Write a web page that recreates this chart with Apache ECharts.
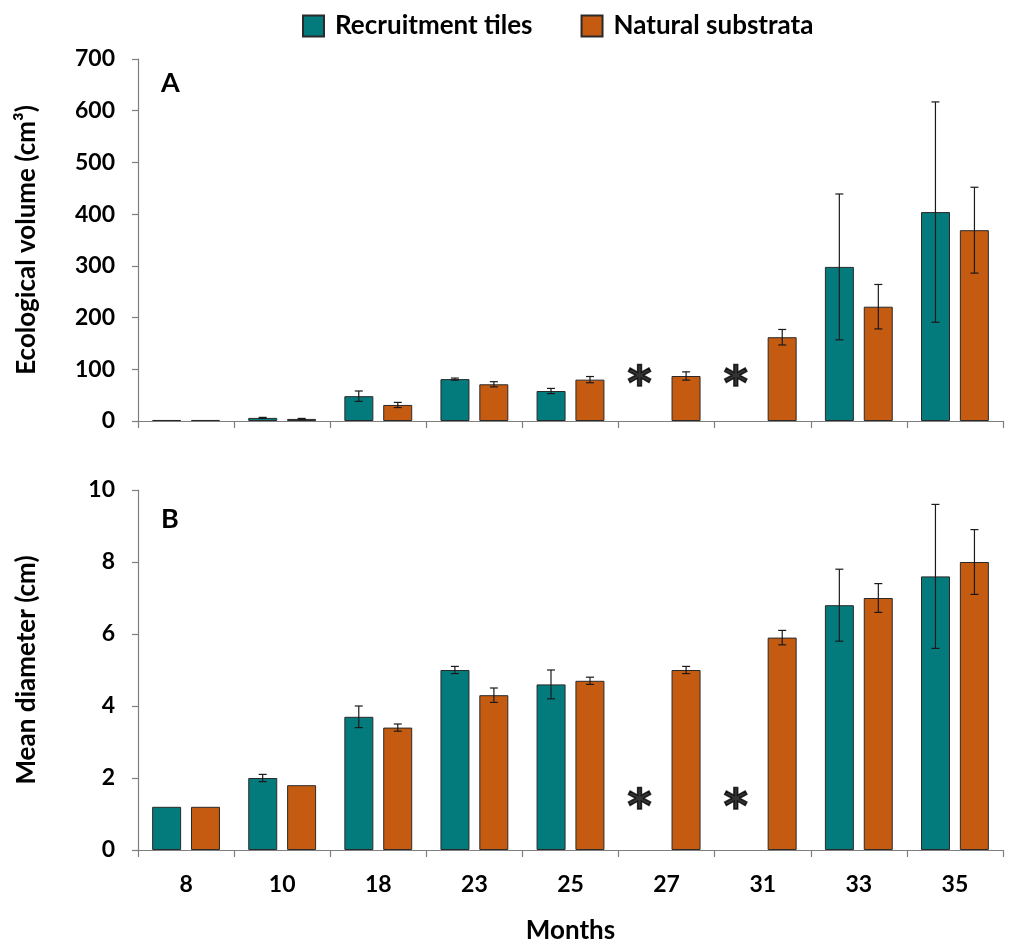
<!DOCTYPE html>
<html>
<head>
<meta charset="utf-8">
<script src="https://cdn.jsdelivr.net/npm/echarts@6/dist/echarts.min.js"></script>
<style>html,body{margin:0;padding:0;background:#fff}#c{width:1010px;height:945px}</style>
</head>
<body>
<div id="c"></div>
<script>
var months = ['8','10','18','23','25','27','31','33','35'];
var volTiles    = [2, 6, 48, 81, 58, null, null, 298, 404];
var volTilesErr = [0, 1, 10, 2, 5, null, null, 141, 213];
var volNat      = [2, 4, 31, 71, 80, 87, 162, 221, 369];
var volNatErr   = [0, 1, 5, 5, 6, 8, 15, 43, 83];
var diaTiles    = [1.2, 2.0, 3.7, 5.0, 4.6, null, null, 6.8, 7.6];
var diaTilesErr = [0, 0.1, 0.3, 0.1, 0.4, null, null, 1.0, 2.0];
var diaNat      = [1.2, 1.8, 3.4, 4.3, 4.7, 5.0, 5.9, 7.0, 8.0];
var diaNatErr   = [0, 0, 0.1, 0.2, 0.1, 0.1, 0.2, 0.4, 0.9];
var asteriskA   = [null, null, null, null, null, 92, 92, null, null];
var asteriskB   = [null, null, null, null, null, 1.5, 1.5, null, null];
var volTicks = [0, 700, 100];
var diaTicks = [0, 10, 2];

var TEAL = '#037B7D', ORANGE = '#C55A11', FONT = 'Lato';
var BAR_W = 29, OFF = 19.5;

function errData(vals, errs) {
  var out = [];
  for (var i = 0; i < vals.length; i++) {
    if (vals[i] != null && errs[i] > 0) out.push([i, vals[i] - errs[i], vals[i] + errs[i]]);
  }
  return out;
}
function errRender(offset) {
  return function (params, api) {
    var x = api.coord([api.value(0), 0])[0] + offset;
    var lo = api.coord([api.value(0), api.value(1)])[1];
    var hi = api.coord([api.value(0), api.value(2)])[1];
    var st = { stroke: '#1a1a1a', lineWidth: 1.2 };
    return { type: 'group', children: [
      { type: 'line', shape: { x1: x, y1: lo, x2: x, y2: hi }, style: st },
      { type: 'line', shape: { x1: x - 4, y1: lo, x2: x + 4, y2: lo }, style: st },
      { type: 'line', shape: { x1: x - 4, y1: hi, x2: x + 4, y2: hi }, style: st }
    ]};
  };
}
function xAxis(gi, showLabels) {
  return {
    type: 'category', gridIndex: gi, data: months,
    axisLine: { lineStyle: { color: '#7f7f7f', width: 1.2 } },
    axisTick: { show: true, length: 7, lineStyle: { color: '#7f7f7f', width: 1.2 } },
    axisLabel: { show: showLabels, fontFamily: FONT, fontWeight: 'bold', fontSize: 23, color: '#000', margin: 23 },
    name: showLabels ? 'Months' : '', nameLocation: 'middle', nameGap: 68,
    nameTextStyle: { fontFamily: FONT, fontWeight: 'bold', fontSize: 26, color: '#000' }
  };
}
function yAxis(gi, t, name) {
  return {
    type: 'value', gridIndex: gi, min: t[0], max: t[1], interval: t[2],
    splitLine: { show: false },
    axisLine: { show: true, lineStyle: { color: '#7f7f7f', width: 1.2 } },
    axisTick: { show: true, length: 6, lineStyle: { color: '#7f7f7f', width: 1.2 } },
    axisLabel: { fontFamily: FONT, fontWeight: 'bold', fontSize: 23, color: '#000', margin: 23 },
    name: name, nameLocation: 'middle', nameGap: 98,
    nameTextStyle: { fontFamily: FONT, fontWeight: 'bold', fontSize: 26, color: '#000' }
  };
}
function barSeries(name, color, data, xi) {
  return { name: name, type: 'bar', xAxisIndex: xi, yAxisIndex: xi, data: data,
    barWidth: BAR_W, barGap: '34%',
    itemStyle: { color: color, borderColor: '#2a2a2a', borderWidth: 1 } };
}
function errSeries(vals, errs, xi, offset) {
  return { type: 'custom', xAxisIndex: xi, yAxisIndex: xi, data: errData(vals, errs),
    renderItem: errRender(offset), encode: { x: 0, y: [1, 2] }, z: 5, silent: true };
}
function starSeries(data, xi) {
  return { type: 'scatter', xAxisIndex: xi, yAxisIndex: xi, data: data, symbolSize: 1,
    itemStyle: { color: 'rgba(0,0,0,0)' }, silent: true,
    label: { show: true, formatter: '*', position: 'inside', offset: [-27, 14],
      fontFamily: 'DejaVu Sans', fontWeight: 'bold', fontSize: 46, color: '#000',
      textBorderColor: '#000', textBorderWidth: 1.5 } };
}

var chart = echarts.init(document.getElementById('c'), null, { renderer: 'canvas' });
chart.setOption({
  animation: false,
  backgroundColor: '#fff',
  legend: {
    top: 8, left: 297, itemWidth: 21, itemHeight: 21, itemGap: 48, icon: 'rect',
    data: ['Recruitment tiles', 'Natural substrata'],
    textStyle: { fontFamily: FONT, fontWeight: 'bold', fontSize: 26, color: '#000', padding: [0, 0, 0, 6] }
  },
  grid: [
    { left: 138, right: 7, top: 59, height: 362 },
    { left: 138, right: 7, top: 490, height: 362 }
  ],
  xAxis: [xAxis(0, false), xAxis(1, true)],
  yAxis: [yAxis(0, volTicks, 'Ecological volume (cm³)'), yAxis(1, diaTicks, 'Mean diameter (cm)')],
  graphic: [
    { type: 'text', left: 161, top: 70, style: { text: 'A', font: 'bold 27px Lato', fill: '#000' } },
    { type: 'text', left: 161, top: 506, style: { text: 'B', font: 'bold 27px Lato', fill: '#000' } }
  ],
  series: [
    barSeries('Recruitment tiles', TEAL, volTiles, 0),
    barSeries('Natural substrata', ORANGE, volNat, 0),
    errSeries(volTiles, volTilesErr, 0, -OFF),
    errSeries(volNat, volNatErr, 0, OFF),
    starSeries(asteriskA, 0),
    barSeries('Recruitment tiles', TEAL, diaTiles, 1),
    barSeries('Natural substrata', ORANGE, diaNat, 1),
    errSeries(diaTiles, diaTilesErr, 1, -OFF),
    errSeries(diaNat, diaNatErr, 1, OFF),
    starSeries(asteriskB, 1)
  ]
});
</script>
</body>
</html>
